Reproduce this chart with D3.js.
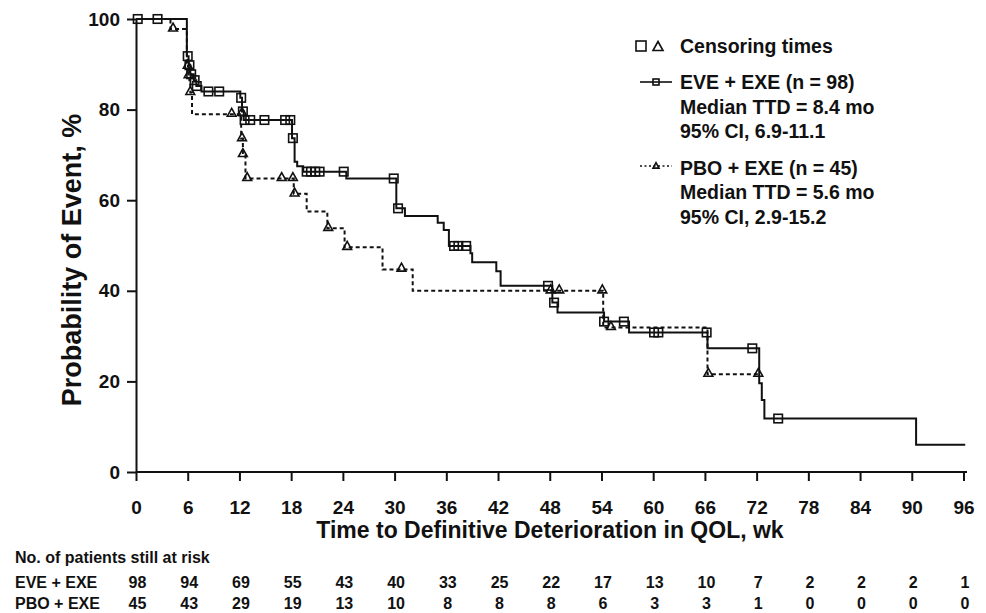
<!DOCTYPE html>
<html lang="en">
<script src="https://d3js.org/d3.v7.min.js"></script>
<style>
    body {margin: 0; background: white;}
    svg text {font-family: "Liberation Sans", Arial, Helvetica, sans-serif; font-weight: bold; fill: #111;}
    .axis path, .axis line {stroke: #111; stroke-width: 2;}
    .axis text {font-size: 19px;}
    .censor {fill: none; stroke: #111; stroke-width: 1.6;}
</style>
<body>
    <svg width="986" height="613"></svg>
</body>
<script>
    var svg = d3.select("svg");

    // step curves: time (wk) where the curve changes, and the value from then on (%)
    var eveTime = [0, 5.9, 6.1, 6.3, 6.7, 7.0, 7.6, 12.1, 12.3, 12.5, 18.1, 18.4, 18.7, 19.4, 24.4, 30.2, 31.2, 35.0, 35.7, 36.3, 38.8, 39.0, 41.8, 42.3, 48.3, 48.9, 54.3, 57.2, 66.3, 72.3, 72.6, 72.9, 90.5, 96.2];
    var eveSurv = [100, 91.8, 89.8, 87.8, 86.5, 85.2, 84.0, 82.6, 79.6, 77.7, 73.7, 68.5, 67.5, 66.3, 64.8, 58.2, 56.5, 55.0, 53.4, 49.9, 48.3, 46.3, 44.3, 41.1, 37.4, 35.2, 33.2, 30.8, 27.3, 19.6, 15.9, 11.8, 6.0, 6.0];
    var pboTime = [0, 4.0, 5.9, 6.1, 6.2, 6.3, 6.5, 12.2, 12.4, 12.7, 18.3, 19.8, 22.2, 24.2, 28.6, 32.1, 54.2, 66.3, 72.2];
    var pboSurv = [100, 97.8, 89.6, 87.5, 86.5, 83.8, 79.0, 73.6, 70.1, 64.8, 61.4, 57.5, 53.8, 49.6, 44.7, 40.0, 31.9, 21.6, 21.6];

    // censoring marks
    var eveCensT = [0.2, 2.5, 6.0, 6.2, 6.4, 6.8, 7.05, 8.4, 9.65, 12.2, 12.4, 12.6, 13.25, 14.9, 17.3, 17.9, 18.2, 19.8, 20.3, 20.8, 21.3, 24.1, 29.9, 30.4, 36.9, 37.4, 38.3, 47.8, 48.5, 54.3, 56.6, 60.1, 60.6, 66.2, 71.5, 74.5];
    var eveCensP = [100, 100, 91.8, 89.8, 87.8, 86.5, 85.2, 84, 84, 82.6, 79.6, 77.7, 77.7, 77.7, 77.7, 77.7, 73.7, 66.3, 66.3, 66.3, 66.3, 66.3, 64.8, 58.2, 49.9, 49.9, 49.9, 41.1, 37.4, 33.2, 33.2, 30.8, 30.8, 30.8, 27.3, 11.8];
    var pboCensT = [4.3, 6.0, 6.1, 6.3, 11.1, 12.3, 12.3, 12.4, 12.9, 16.9, 18.2, 18.4, 22.3, 24.5, 30.8, 48.1, 49.1, 54.1, 55.1, 66.4, 72.2];
    var pboCensP = [97.8, 89.6, 87.5, 83.8, 79, 79.2, 73.6, 70.1, 64.8, 64.8, 64.8, 61.4, 53.8, 49.6, 44.8, 40, 40, 40, 31.9, 21.6, 21.6];

    // at-risk table
    var riskTimes = [0, 6, 12, 18, 24, 30, 36, 42, 48, 54, 60, 66, 72, 78, 84, 90, 96];
    var eveRisk = [98, 94, 69, 55, 43, 40, 33, 25, 22, 17, 13, 10, 7, 2, 2, 2, 1];
    var pboRisk = [45, 43, 29, 19, 13, 10, 8, 8, 8, 6, 3, 3, 1, 0, 0, 0, 0];

    var xTicks = d3.range(0, 97, 6);
    var yTicks = [0, 20, 40, 60, 80, 100];

    var x = d3.scaleLinear().domain([0, 96]).range([136, 963.5]);
    var y = d3.scaleLinear().domain([0, 100]).range([472, 19]);

    // axes
    var yAxis = svg.append("g").attr("class", "axis").attr("transform", "translate(" + x(0) + ",0)")
        .call(d3.axisLeft(y).tickValues(yTicks).tickSize(9).tickSizeOuter(0).tickPadding(7));
    var xAxis = svg.append("g").attr("class", "axis").attr("transform", "translate(0," + y(0) + ")")
        .call(d3.axisBottom(x).tickValues(xTicks).tickSize(9).tickSizeOuter(0));
    xAxis.select(".domain").remove();
    xAxis.append("line").attr("x1", x(0)).attr("x2", 967).attr("stroke", "#111").attr("stroke-width", 2);
    xAxis.selectAll(".tick text").attr("y", 35).attr("dy", "0.35em");
    svg.selectAll(".axis text").attr("fill", "#111");

    svg.append("text").attr("x", 550).attr("y", 530).attr("text-anchor", "middle")
        .attr("dominant-baseline", "central").style("font-size", "23px")
        .text("Time to Definitive Deterioration in QOL, wk");
    svg.append("text").attr("transform", "translate(72,260) rotate(-90)").attr("text-anchor", "middle")
        .attr("dominant-baseline", "central").style("font-size", "27px")
        .text("Probability of Event, %");

    // curves
    var step = d3.line().x(function(d){return x(d[0]);}).y(function(d){return y(d[1]);}).curve(d3.curveStepAfter);
    svg.append("path").attr("d", step(d3.zip(eveTime, eveSurv)))
        .attr("fill", "none").attr("stroke", "#111").attr("stroke-width", 2);
    svg.append("path").attr("d", step(d3.zip(pboTime, pboSurv)))
        .attr("fill", "none").attr("stroke", "#111").attr("stroke-width", 2).attr("stroke-dasharray", "4,3");

    function tri(cx, cy, s){
        return "M" + cx + "," + (cy - s * 1.1) + "L" + (cx + s) + "," + (cy + s * 0.7) + "L" + (cx - s) + "," + (cy + s * 0.7) + "Z";
    }

    svg.append("g").selectAll("rect").data(d3.zip(eveCensT, eveCensP)).enter().append("rect")
        .attr("class", "censor")
        .attr("x", function(d){return x(d[0]) - 4.25;}).attr("y", function(d){return y(d[1]) - 4.25;})
        .attr("width", 8.5).attr("height", 8.5);
    svg.append("g").selectAll("path").data(d3.zip(pboCensT, pboCensP)).enter().append("path")
        .attr("class", "censor")
        .attr("d", function(d){return tri(x(d[0]), y(d[1]) - 1, 4.4);});

    // legend
    var lg = svg.append("g");
    lg.append("rect").attr("class", "censor").attr("x", 636).attr("y", 41).attr("width", 10).attr("height", 10).attr("stroke-width", 1.2);
    lg.append("path").attr("class", "censor").attr("d", tri(658, 47, 5)).attr("stroke-width", 1.2);
    lg.append("text").attr("x", 680).attr("y", 46).attr("dominant-baseline", "central").style("font-size", "19.5px").text("Censoring times");

    lg.append("line").attr("x1", 640).attr("x2", 672).attr("y1", 82).attr("y2", 82).attr("stroke", "#111").attr("stroke-width", 1.6);
    lg.append("rect").attr("class", "censor").attr("x", 653).attr("y", 79).attr("width", 6).attr("height", 6).attr("stroke-width", 1.2).attr("fill", "white");
    lg.append("line").attr("x1", 640).attr("x2", 672).attr("y1", 166).attr("y2", 166).attr("stroke", "#111").attr("stroke-width", 1.6).attr("stroke-dasharray", "2,2.5");
    lg.append("path").attr("class", "censor").attr("d", tri(656, 166, 3)).attr("stroke-width", 1.2).attr("fill", "white");

    var legendLines = [
        ["EVE + EXE (n = 98)", 82], ["Median TTD = 8.4 mo", 106.5], ["95% CI, 6.9-11.1", 131],
        ["PBO + EXE (n = 45)", 167.5], ["Median TTD = 5.6 mo", 192], ["95% CI, 2.9-15.2", 216.5]
    ];
    lg.selectAll(".lt").data(legendLines).enter().append("text").attr("class", "lt")
        .attr("x", 680).attr("y", function(d){return d[1];}).attr("dominant-baseline", "central")
        .style("font-size", "19.5px").text(function(d){return d[0];});

    // number at risk
    svg.append("text").attr("x", 15).attr("y", 557).attr("dominant-baseline", "central").style("font-size", "16px")
        .text("No. of patients still at risk");
    var rows = [["EVE + EXE", eveRisk, 582], ["PBO + EXE", pboRisk, 603]];
    rows.forEach(function(r){
        svg.append("text").attr("x", 15).attr("y", r[2]).attr("dominant-baseline", "central").style("font-size", "16px").text(r[0]);
        svg.append("g").selectAll("text").data(d3.zip(riskTimes, r[1])).enter().append("text")
            .attr("x", function(d){return x(d[0]) + 1.5;}).attr("y", r[2]).attr("text-anchor", "middle")
            .attr("dominant-baseline", "central").style("font-size", "16px").text(function(d){return d[1];});
    });
</script>
</html>
